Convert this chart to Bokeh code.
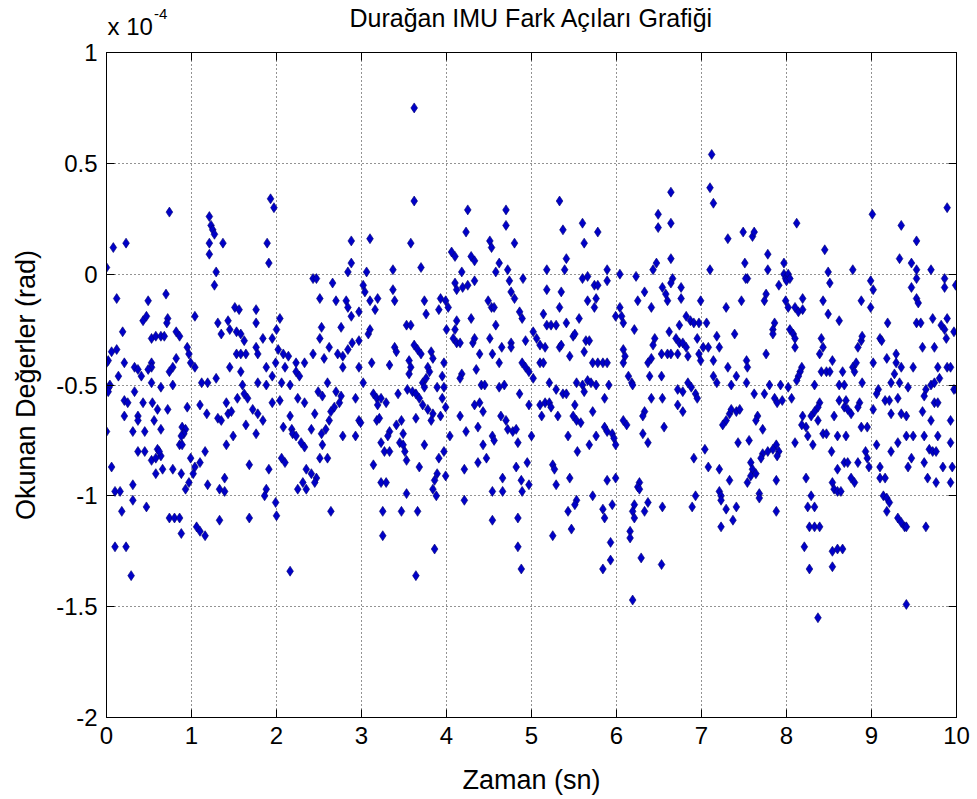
from bokeh.plotting import figure
from bokeh.layouts import column
from bokeh.models import (Range1d, LinearAxis, FixedTicker, CustomJSTickFormatter,
                          Label, ColumnDataSource)
from bokeh.embed import file_html
from bokeh.resources import INLINE

# Measured difference angles of a stationary IMU: (time [s], angle [x 1e-4 rad]),
# one list per second of recording.
second_0 = [
    (0.00, 0.03), (0.08, 0.12), (0.23, 0.14), (0.74, 0.28), (0.12, -0.11), (0.49, -0.12), (0.70, -0.09), (0.43, -0.21), (0.47, -0.19), (0.72, -0.20),
    (0.71, -0.22), (0.19, -0.26), (0.53, -0.29), (0.58, -0.28), (0.64, -0.28), (0.68, -0.28), (0.82, -0.26), (0.86, -0.28), (0.06, -0.35), (0.12, -0.34),
    (0.02, -0.39), (0.00, -0.40), (0.21, -0.40), (0.33, -0.42), (0.37, -0.43), (0.41, -0.46), (0.53, -0.40), (0.53, -0.42), (0.49, -0.43), (0.82, -0.38),
    (0.78, -0.42), (0.74, -0.44), (0.95, -0.33), (0.97, -0.36), (0.99, -0.40), (0.14, -0.46), (0.04, -0.50), (0.03, -0.51), (0.02, -0.53), (0.53, -0.49),
    (0.64, -0.51), (0.78, -0.50), (0.21, -0.57), (0.25, -0.58), (0.33, -0.53), (0.43, -0.58), (0.54, -0.58), (0.60, -0.61), (0.72, -0.61), (0.95, -0.60),
    (0.21, -0.64), (0.37, -0.64), (0.37, -0.66), (0.31, -0.71), (0.45, -0.71), (0.56, -0.66), (0.64, -0.70), (0.89, -0.69), (0.93, -0.70), (0.91, -0.72),
    (0.88, -0.73), (0.00, -0.71), (0.37, -0.80), (0.45, -0.80), (0.53, -0.84), (0.58, -0.83), (0.64, -0.82), (0.60, -0.79), (0.62, -0.80), (0.86, -0.77),
    (0.89, -0.77), (0.99, -0.83), (0.06, -0.87), (0.78, -0.88), (0.88, -0.90), (0.97, -0.94), (0.93, -0.97), (0.31, -0.95), (0.58, -0.90), (0.66, -0.88),
    (0.10, -0.98), (0.16, -0.98), (0.31, -1.02), (0.18, -1.07), (0.47, -1.05), (0.74, -1.10), (0.80, -1.10), (0.86, -1.10), (0.88, -1.17), (0.10, -1.23),
    (0.23, -1.23), (0.29, -1.36),
]
second_1 = [
    (1.93, 0.34), (1.97, 0.30), (1.21, 0.26), (1.23, 0.22), (1.25, 0.20), (1.27, 0.18), (1.21, 0.14), (1.37, 0.14), (1.21, 0.09), (1.89, 0.14),
    (1.91, 0.05), (1.29, 0.01), (1.27, -0.05), (1.04, -0.19), (1.51, -0.15), (1.56, -0.16), (1.76, -0.16), (1.31, -0.22), (1.43, -0.21), (1.35, -0.27),
    (1.45, -0.25), (1.53, -0.26), (1.58, -0.27), (1.76, -0.22), (1.62, -0.30), (1.76, -0.33), (1.84, -0.29), (1.95, -0.29), (1.53, -0.36), (1.58, -0.36),
    (1.64, -0.36), (1.78, -0.36), (1.04, -0.42), (1.45, -0.42), (1.58, -0.44), (1.88, -0.42), (1.99, -0.40), (1.12, -0.49), (1.19, -0.49), (1.29, -0.47),
    (1.60, -0.50), (1.78, -0.49), (1.88, -0.50), (1.95, -0.46), (1.62, -0.54), (1.41, -0.58), (1.54, -0.56), (1.66, -0.56), (1.72, -0.61), (1.78, -0.63),
    (1.84, -0.66), (1.95, -0.58), (1.10, -0.59), (1.18, -0.63), (1.31, -0.65), (1.35, -0.66), (1.43, -0.63), (1.47, -0.62), (1.64, -0.68), (1.76, -0.72),
    (1.49, -0.73), (1.41, -0.77), (1.16, -0.80), (1.68, -0.86), (1.91, -0.88), (1.04, -0.87), (1.10, -0.85), (1.02, -0.90), (1.19, -0.95), (1.39, -0.92),
    (1.33, -0.97), (1.39, -0.98), (1.88, -0.97), (1.86, -1.00), (1.99, -1.03), (1.68, -1.10), (1.33, -1.11), (1.06, -1.14), (1.10, -1.16), (1.16, -1.18),
]
second_2 = [
    (2.88, 0.15), (2.88, 0.05), (2.43, -0.02), (2.47, -0.02), (2.66, -0.04), (2.84, 0.01), (2.51, -0.11), (2.70, -0.12), (2.82, -0.12), (2.84, -0.15),
    (2.88, -0.19), (2.97, -0.17), (2.04, -0.20), (2.53, -0.24), (2.76, -0.24), (2.00, -0.25), (2.51, -0.29), (2.62, -0.33), (2.43, -0.36), (2.84, -0.34),
    (2.89, -0.31), (2.97, -0.30), (2.02, -0.34), (2.08, -0.36), (2.14, -0.37), (2.23, -0.40), (2.33, -0.40), (2.56, -0.38), (2.72, -0.36), (2.78, -0.37),
    (2.10, -0.42), (2.23, -0.44), (2.78, -0.42), (2.97, -0.42), (2.06, -0.49), (2.16, -0.50), (2.27, -0.46), (2.60, -0.49), (2.49, -0.53), (2.54, -0.55),
    (2.70, -0.53), (2.76, -0.55), (2.93, -0.56), (2.74, -0.58), (2.04, -0.57), (2.25, -0.56), (2.33, -0.58), (2.68, -0.60), (2.64, -0.62), (2.16, -0.64),
    (2.45, -0.63), (2.97, -0.66), (2.99, -0.67), (2.08, -0.69), (2.18, -0.70), (2.19, -0.72), (2.23, -0.73), (2.41, -0.70), (2.62, -0.66), (2.58, -0.70),
    (2.53, -0.72), (2.78, -0.73), (2.93, -0.73), (2.29, -0.76), (2.33, -0.78), (2.54, -0.77), (2.06, -0.83), (2.10, -0.85), (2.51, -0.83), (2.60, -0.83),
    (2.35, -0.88), (2.41, -0.90), (2.47, -0.92), (2.45, -0.94), (2.31, -0.94), (2.25, -0.97), (2.35, -0.97), (2.00, -1.09), (2.64, -1.07), (2.16, -1.34),
]
second_3 = [
    (3.62, 0.75), (3.62, 0.33), (3.10, 0.16), (3.58, 0.14), (3.06, 0.01), (3.37, 0.02), (3.70, 0.03), (3.02, -0.05), (3.04, -0.08), (3.37, -0.07),
    (3.39, -0.12), (3.10, -0.12), (3.19, -0.11), (3.16, -0.16), (3.74, -0.12), (3.76, -0.18), (3.93, -0.11), (3.91, -0.16), (3.99, -0.12), (3.53, -0.23),
    (3.58, -0.23), (3.08, -0.27), (3.10, -0.25), (3.39, -0.33), (3.41, -0.35), (3.62, -0.32), (3.66, -0.34), (3.70, -0.36), (3.82, -0.35),
    (3.84, -0.38), (3.12, -0.40), (3.33, -0.41), (3.56, -0.39), (3.58, -0.42), (3.56, -0.45), (3.78, -0.42), (3.80, -0.44), (3.97, -0.40), (3.95, -0.46),
    (3.02, -0.49), (3.72, -0.49), (3.76, -0.47), (3.74, -0.51), (3.14, -0.54), (3.18, -0.56), (3.23, -0.56), (3.29, -0.58), (3.43, -0.54), (3.54, -0.52),
    (3.60, -0.53), (3.64, -0.54), (3.89, -0.51), (3.97, -0.51), (3.95, -0.56), (3.99, -0.60), (3.19, -0.59), (3.68, -0.56), (3.72, -0.59), (3.78, -0.61),
    (3.84, -0.63), (3.93, -0.64), (3.18, -0.66), (3.21, -0.65), (3.41, -0.68), (3.47, -0.66), (3.64, -0.65), (3.82, -0.66), (3.33, -0.71),
    (3.31, -0.73), (3.49, -0.72), (3.45, -0.76), (3.49, -0.77), (3.23, -0.76), (3.27, -0.80), (3.33, -0.80), (3.51, -0.80), (3.53, -0.84), (3.74, -0.77),
    (3.97, -0.80), (3.14, -0.86), (3.68, -0.87), (3.91, -0.83), (3.23, -0.94), (3.29, -0.94), (3.86, -0.93), (3.89, -0.90), (3.99, -0.91), (3.53, -0.99),
    (3.84, -0.97), (3.88, -1.00), (3.25, -1.07), (3.47, -1.07), (3.66, -1.07), (3.25, -1.18), (3.86, -1.24), (3.64, -1.36),
]
second_4 = [
    (4.25, 0.29), (4.70, 0.29), (4.23, 0.19), (4.70, 0.22), (4.51, 0.15), (4.53, 0.12), (4.80, 0.14), (4.06, 0.10), (4.10, 0.08), (4.29, 0.08),
    (4.33, 0.06), (4.62, 0.05), (4.18, 0.01), (4.58, 0.01), (4.72, 0.02), (4.90, -0.02), (4.10, -0.04), (4.12, -0.07), (4.19, -0.06), (4.25, -0.05),
    (4.33, -0.03), (4.74, -0.03), (4.76, -0.08), (4.80, -0.11), (4.02, -0.15), (4.49, -0.12), (4.53, -0.15), (4.56, -0.15), (4.86, -0.17), (4.89, -0.20),
    (4.12, -0.21), (4.29, -0.20), (4.58, -0.23), (4.00, -0.25), (4.10, -0.25), (4.08, -0.29), (4.12, -0.31), (4.16, -0.31), (4.31, -0.31),
    (4.33, -0.29), (4.51, -0.29), (4.65, -0.33), (4.76, -0.31), (4.76, -0.33), (4.93, -0.30), (4.39, -0.36), (4.54, -0.36), (4.62, -0.40), (4.89, -0.40),
    (4.93, -0.42), (4.97, -0.44), (4.18, -0.45), (4.16, -0.47), (4.35, -0.43), (4.41, -0.50), (4.45, -0.50), (4.62, -0.51), (4.68, -0.50),
    (4.86, -0.54), (4.97, -0.59), (4.33, -0.59), (4.39, -0.58), (4.43, -0.62), (4.16, -0.64), (4.64, -0.64), (4.70, -0.66), (4.72, -0.70),
    (4.78, -0.71), (4.82, -0.70), (4.23, -0.71), (4.37, -0.69), (4.54, -0.73), (4.56, -0.75), (4.04, -0.73), (4.43, -0.77), (4.84, -0.76),
    (4.37, -0.85), (4.47, -0.83), (4.82, -0.87), (4.95, -0.85), (4.21, -0.88), (4.66, -0.92), (4.88, -0.93), (4.97, -0.95), (4.21, -1.02),
    (4.54, -0.98), (4.66, -0.98), (4.89, -0.98), (4.54, -1.11), (4.84, -1.10), (4.84, -1.23), (4.88, -1.33),
]
second_5 = [
    (5.33, 0.33), (5.60, 0.23), (5.37, 0.20), (5.62, 0.14), (5.78, 0.19), (5.41, 0.07), (5.39, 0.02), (5.18, 0.02), (5.60, -0.02), (5.66, -0.01),
    (5.74, -0.05), (5.78, -0.05), (5.89, 0.02), (5.89, -0.03), (5.18, -0.07), (5.35, -0.08), (5.66, -0.12), (5.76, -0.11), (5.74, -0.15), (5.14, -0.18),
    (5.33, -0.15), (5.99, -0.19), (5.18, -0.23), (5.23, -0.23), (5.29, -0.23), (5.41, -0.22), (5.56, -0.20), (5.02, -0.26), (5.06, -0.29), (5.10, -0.32),
    (5.16, -0.33), (5.33, -0.33), (5.35, -0.32), (5.49, -0.28), (5.51, -0.27), (5.64, -0.30), (5.68, -0.30), (5.62, -0.35), (5.45, -0.37), (5.10, -0.40),
    (5.14, -0.40), (5.72, -0.40), (5.78, -0.40), (5.84, -0.40), (5.89, -0.40), (5.02, -0.47), (5.21, -0.49), (5.29, -0.52), (5.37, -0.54), (5.41, -0.54),
    (5.53, -0.49), (5.60, -0.50), (5.66, -0.48), (5.70, -0.49), (5.76, -0.50), (5.91, -0.50), (5.10, -0.59), (5.16, -0.58), (5.21, -0.58), (5.23, -0.60),
    (5.51, -0.59), (5.62, -0.53), (5.72, -0.62), (5.86, -0.56), (5.12, -0.64), (5.31, -0.64), (5.49, -0.64), (5.53, -0.66), (5.58, -0.67), (5.86, -0.69),
    (5.89, -0.71), (5.95, -0.72), (5.97, -0.74), (5.99, -0.77), (5.00, -0.73), (5.43, -0.73), (5.68, -0.77), (5.54, -0.80), (5.76, -0.73), (5.25, -0.86),
    (5.27, -0.88), (5.29, -0.95), (5.45, -0.92), (5.89, -0.93), (5.99, -0.92), (5.53, -1.02), (5.51, -1.04), (5.72, -1.00), (5.43, -1.07), (5.84, -1.06),
    (5.86, -1.10), (5.95, -1.04), (5.47, -1.15), (5.25, -1.18), (5.93, -1.21), (5.93, -1.29), (5.84, -1.33),
]
second_6 = [
    (6.64, 0.37), (6.49, 0.27), (6.64, 0.23), (6.49, 0.21), (6.64, 0.07), (6.47, 0.05), (6.04, 0.00), (6.23, -0.01), (6.43, 0.02), (6.66, -0.02),
    (6.64, -0.04), (6.76, -0.06), (6.76, -0.11), (6.54, -0.06), (6.60, -0.12), (6.58, -0.09), (6.33, -0.08), (6.25, -0.12), (6.41, -0.15), (6.04, -0.15),
    (6.99, -0.12), (6.08, -0.22), (6.06, -0.19), (6.21, -0.25), (6.74, -0.23), (6.82, -0.19), (6.87, -0.21), (6.91, -0.22), (6.97, -0.22), (6.45, -0.29),
    (6.43, -0.32), (6.62, -0.26), (6.70, -0.29), (6.74, -0.31), (6.78, -0.31), (6.82, -0.33), (6.72, -0.36), (6.60, -0.36), (6.95, -0.29), (6.08, -0.34),
    (6.10, -0.37), (6.08, -0.40), (6.41, -0.38), (6.37, -0.40), (6.53, -0.36), (6.64, -0.36), (6.84, -0.37), (6.97, -0.36), (6.99, -0.39), (6.14, -0.46),
    (6.18, -0.49), (6.19, -0.50), (6.39, -0.46), (6.53, -0.46), (6.84, -0.49), (6.88, -0.51), (6.93, -0.54), (6.95, -0.56), (6.72, -0.52), (6.78, -0.53),
    (6.41, -0.56), (6.54, -0.56), (6.72, -0.59), (6.78, -0.62), (6.33, -0.62), (6.31, -0.64), (6.12, -0.68), (6.08, -0.66), (6.31, -0.72), (6.37, -0.76),
    (6.56, -0.69), (6.91, -0.83), (6.27, -0.94), (6.25, -0.96), (6.27, -0.97), (6.21, -1.04), (6.19, -1.07), (6.33, -1.07), (6.37, -1.03), (6.54, -1.05),
    (6.89, -1.05), (6.93, -1.00), (6.21, -1.10), (6.16, -1.16), (6.16, -1.19), (6.29, -1.28), (6.53, -1.31), (6.19, -1.47),
]
second_7 = [
    (7.12, 0.54), (7.10, 0.39), (7.14, 0.32), (7.31, 0.16), (7.49, 0.19), (7.60, 0.17), (7.62, 0.19), (7.78, 0.09), (7.51, 0.05), (7.97, 0.05),
    (7.10, 0.02), (7.54, -0.02), (7.52, -0.02), (7.78, 0.02), (7.97, 0.00), (7.99, -0.02), (7.91, -0.05), (7.76, -0.09), (7.47, -0.12), (7.29, -0.15),
    (7.74, -0.12), (7.99, -0.12), (7.06, -0.22), (7.86, -0.22), (7.84, -0.25), (7.18, -0.28), (7.39, -0.27), (7.84, -0.27), (7.76, -0.36), (7.02, -0.33),
    (7.08, -0.33), (7.21, -0.33), (7.14, -0.39), (7.31, -0.42), (7.53, -0.39), (7.54, -0.42), (7.41, -0.46), (7.14, -0.46), (7.18, -0.49), (7.35, -0.50),
    (7.53, -0.49), (7.62, -0.54), (7.80, -0.50), (7.93, -0.50), (7.74, -0.54), (7.86, -0.56), (7.89, -0.58), (7.95, -0.57), (7.33, -0.63), (7.35, -0.61),
    (7.41, -0.62), (7.45, -0.61), (7.66, -0.64), (7.64, -0.66), (7.29, -0.66), (7.25, -0.68), (7.72, -0.70), (7.56, -0.75), (7.43, -0.76), (7.88, -0.77),
    (7.91, -0.80), (7.04, -0.79), (7.72, -0.81), (7.78, -0.80), (7.84, -0.79), (7.89, -0.82), (7.70, -0.83), (7.58, -0.85), (7.60, -0.88), (7.08, -0.87),
    (7.21, -0.88), (7.33, -0.93), (7.88, -0.93), (7.54, -0.94), (7.58, -0.91), (7.64, -0.90), (7.21, -0.98), (7.23, -1.00), (7.23, -1.02), (7.29, -1.06),
    (7.41, -1.05), (7.68, -0.99), (7.68, -1.01), (7.88, -1.07), (7.23, -1.14), (7.37, -1.11),
]
second_8 = [
    (8.12, 0.23), (8.45, 0.11), (8.49, 0.01), (8.78, 0.02), (8.02, 0.00), (8.00, -0.03), (8.04, -0.02), (8.51, -0.04), (8.99, -0.03), (8.19, -0.11),
    (8.43, -0.12), (8.88, -0.12), (8.02, -0.15), (8.10, -0.15), (8.14, -0.17), (8.19, -0.16), (8.49, -0.18), (8.62, -0.21), (8.99, -0.15), (8.04, -0.25),
    (8.08, -0.27), (8.10, -0.29), (8.10, -0.33), (8.41, -0.29), (8.43, -0.33), (8.39, -0.36), (8.84, -0.33), (8.88, -0.30), (8.89, -0.28), (8.54, -0.39),
    (8.18, -0.42), (8.16, -0.44), (8.14, -0.46), (8.12, -0.48), (8.41, -0.44), (8.47, -0.44), (8.51, -0.44), (8.66, -0.44), (8.78, -0.42), (8.82, -0.40),
    (8.80, -0.44), (8.33, -0.50), (8.02, -0.51), (8.62, -0.50), (8.68, -0.50), (8.89, -0.49), (8.06, -0.56), (8.39, -0.58), (8.37, -0.60), (8.33, -0.62),
    (8.29, -0.64), (8.62, -0.57), (8.70, -0.57), (8.68, -0.60), (8.72, -0.61), (8.76, -0.63), (8.86, -0.58), (8.84, -0.60), (8.19, -0.64), (8.23, -0.69),
    (8.18, -0.68), (8.37, -0.66), (8.56, -0.64), (8.95, -0.69), (8.88, -0.69), (8.43, -0.72), (8.47, -0.72), (8.60, -0.73), (8.70, -0.73), (8.10, -0.76),
    (8.25, -0.73), (8.31, -0.77), (8.53, -0.80), (8.93, -0.80), (8.95, -0.83), (8.97, -0.87), (8.60, -0.88), (8.68, -0.85), (8.72, -0.85), (8.84, -0.85),
    (8.76, -0.92), (8.23, -0.92), (8.54, -0.94), (8.56, -0.97), (8.60, -0.98), (8.64, -0.98), (8.80, -0.94), (8.29, -1.00), (8.25, -1.05), (8.33, -1.05),
    (8.27, -1.14), (8.33, -1.14), (8.39, -1.14), (8.21, -1.23), (8.54, -1.25), (8.60, -1.24), (8.66, -1.24), (8.27, -1.33), (8.54, -1.32), (8.37, -1.55),
    (9.01, 0.27),
]
second_9 = [
    (9.89, 0.30), (9.35, 0.22), (9.53, 0.15), (9.33, 0.07), (9.47, 0.05), (9.53, 0.02), (9.53, -0.02), (9.70, 0.02), (9.86, -0.02), (9.86, -0.06),
    (9.99, -0.05), (9.02, -0.07), (9.47, -0.06), (9.53, -0.11), (9.55, -0.13), (9.19, -0.22), (9.53, -0.22), (9.58, -0.22), (9.72, -0.20),
    (9.82, -0.23), (9.86, -0.25), (9.89, -0.20), (9.88, -0.29), (9.97, -0.26), (9.10, -0.29), (9.12, -0.30), (9.60, -0.33), (9.74, -0.33), (9.78, -0.42),
    (9.89, -0.42), (9.93, -0.42), (9.18, -0.38), (9.29, -0.36), (9.29, -0.40), (9.35, -0.42), (9.49, -0.42), (9.02, -0.40), (9.27, -0.45), (9.23, -0.49),
    (9.33, -0.49), (9.43, -0.51), (9.08, -0.52), (9.06, -0.54), (9.70, -0.50), (9.64, -0.52), (9.62, -0.55), (9.74, -0.49), (9.80, -0.47), (9.97, -0.52),
    (10.00, -0.52), (9.16, -0.57), (9.21, -0.57), (9.31, -0.56), (9.02, -0.61), (9.23, -0.63), (9.35, -0.63), (9.41, -0.64), (9.60, -0.62), (9.70, -0.66),
    (9.74, -0.58), (9.78, -0.58), (9.93, -0.66), (9.06, -0.77), (9.31, -0.76), (9.41, -0.73), (9.49, -0.73), (9.62, -0.73), (9.78, -0.73), (9.93, -0.76),
    (9.23, -0.80), (9.68, -0.79), (9.72, -0.80), (9.76, -0.80), (9.10, -0.87), (9.10, -0.92), (9.16, -0.92), (9.47, -0.83), (9.43, -0.87),
    (9.62, -0.85), (9.84, -0.87), (9.95, -0.87), (9.66, -0.92), (9.76, -0.94), (9.93, -0.94), (9.14, -1.00), (9.18, -1.01), (9.21, -1.03), (9.18, -1.07),
    (9.31, -1.10), (9.35, -1.12), (9.39, -1.14), (9.41, -1.14), (9.64, -1.14), (9.41, -1.49),
]

x_ticks = [0, 1, 2, 3, 4, 5, 6, 7, 8, 9, 10]
y_ticks = [-2, -1.5, -1, -0.5, 0, 0.5, 1]

title_text = "Durağan IMU Fark Açıları Grafiği"
x_label = "Zaman (sn)"
y_label = "Okunan Değerler (rad)"
exponent_base = "x 10"
exponent_power = "-4"

FONT = "Liberation Sans"
LEFT, RIGHT = 106, 21
HEADER_H = 39

points = (second_0 + second_1 + second_2 + second_3 + second_4 +
          second_5 + second_6 + second_7 + second_8 + second_9)
source = ColumnDataSource(data=dict(
    t=[pt[0] for pt in points],
    angle=[pt[1] for pt in points],
))

# --- header strip: title and the axis multiplier, in pixel coordinates ---
head = figure(width=977, height=HEADER_H, output_backend="svg", toolbar_location=None,
              x_range=Range1d(0, 10), y_range=Range1d(0, HEADER_H),
              x_axis_type=None, y_axis_type=None,
              min_border_left=LEFT, min_border_right=RIGHT,
              min_border_top=0, min_border_bottom=0,
              background_fill_color="white", border_fill_color="white")
head.outline_line_color = None
head.xgrid.visible = False
head.ygrid.visible = False
head.add_layout(Label(x=5.0, y=HEADER_H - 17, text=title_text, text_align="center",
                      text_baseline="middle", text_font=FONT,
                      text_font_size="25px", text_color="black"))
head.add_layout(Label(x=0.012, y=HEADER_H - 25.5, text=exponent_base, text_align="left",
                      text_baseline="middle", text_font=FONT,
                      text_font_size="24px", text_color="black"))
head.add_layout(Label(x=0.56, y=HEADER_H - 13.5, text=exponent_power, text_align="left",
                      text_baseline="middle", text_font=FONT,
                      text_font_size="15px", text_color="black"))

# --- main scatter; its frame starts 13 px below the header ---
p = figure(width=977, height=799 - HEADER_H, output_backend="svg", toolbar_location=None,
           x_range=Range1d(0, 10), y_range=Range1d(-2, 1),
           min_border_left=LEFT, min_border_right=RIGHT,
           min_border_top=13, min_border_bottom=82,
           background_fill_color="white", border_fill_color="white")
p.outline_line_color = "black"
p.outline_line_width = 1

plain = CustomJSTickFormatter(code="return tick.toString();")
blank = CustomJSTickFormatter(code="return '';")
xt = FixedTicker(ticks=x_ticks)
yt = FixedTicker(ticks=y_ticks)


def style_axis(ax, ticker, show_labels):
    ax.ticker = ticker
    ax.axis_line_color = "black"
    ax.major_tick_line_color = "black"
    ax.major_tick_in = 8
    ax.major_tick_out = 0
    ax.minor_tick_line_color = None
    ax.major_label_text_font = FONT
    ax.major_label_text_color = "black"
    if show_labels:
        ax.formatter = plain
        ax.major_label_text_font_size = "24px"
    else:
        # box-side axes: tick marks only
        ax.formatter = blank
        ax.major_label_text_font_size = "0px"
        ax.major_label_standoff = 0


xa = p.xaxis[0]
style_axis(xa, xt, True)
xa.major_label_standoff = 9
xa.axis_label = x_label
xa.axis_label_text_font = FONT
xa.axis_label_text_font_size = "27px"
xa.axis_label_text_font_style = "normal"
xa.axis_label_text_color = "black"
xa.axis_label_standoff = 18

ya = p.yaxis[0]
style_axis(ya, yt, True)
ya.major_label_standoff = 9
ya.axis_label = y_label
ya.axis_label_text_font = FONT
ya.axis_label_text_font_size = "27px"
ya.axis_label_text_font_style = "normal"
ya.axis_label_text_color = "black"
ya.axis_label_standoff = 12

right_axis = LinearAxis()
style_axis(right_axis, yt, False)
p.add_layout(right_axis, "right")

top_axis = LinearAxis()
style_axis(top_axis, xt, False)
p.add_layout(top_axis, "above")

for g, tk in ((p.xgrid[0], xt), (p.ygrid[0], yt)):
    g.ticker = tk
    g.grid_line_color = "black"
    g.grid_line_dash = "1 3"
    g.grid_line_width = 1
    g.grid_line_alpha = 0.85

p.scatter("t", "angle", source=source, marker="diamond", size=10,
          fill_color="#0000c8", line_color="#00006e", line_width=0.6)

page = column(head, p, spacing=0)
open("out.html", "w").write(file_html(page, INLINE))
